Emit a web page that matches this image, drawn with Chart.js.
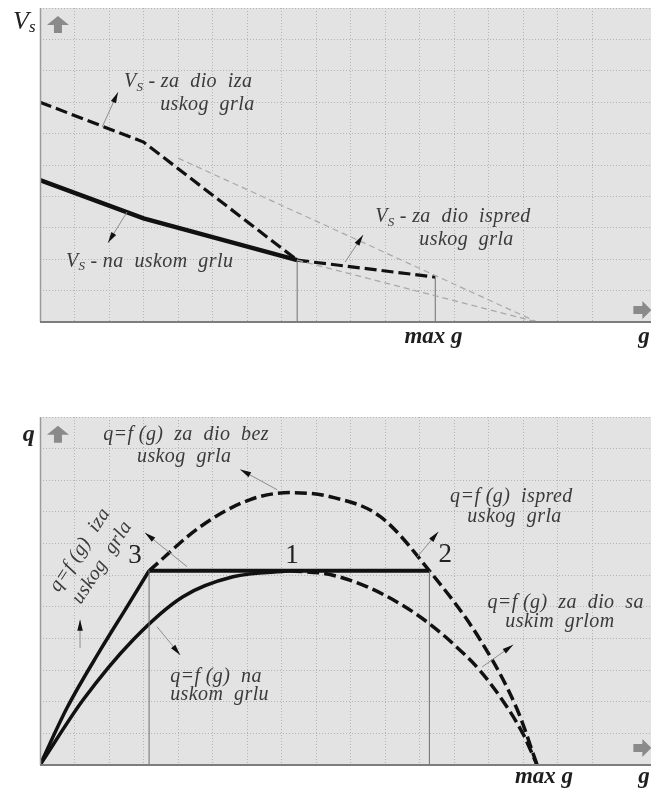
<!DOCTYPE html>
<html><head><meta charset="utf-8">
<script src="https://cdn.jsdelivr.net/npm/chart.js@4"></script>
<style>
html,body{margin:0;padding:0;background:#fff;}
#wrap{position:relative;width:651px;height:791px;overflow:hidden;background:#fff;}
canvas{position:absolute;left:0;}
#top{top:0;} #bot{top:390px;}
</style></head><body>
<div id="wrap"><canvas id="top" width="651" height="360"></canvas><canvas id="bot" width="651" height="401"></canvas></div>
<script>
// ---------- data ----------
const gMax = 17.7;          // g-axis range (grid units)
const vsMax = 10;           // V_s-axis range
const qMax = 11;            // q-axis range

// Top panel: V_s = f(g)
const vsIzaG    = [0, 3.0, 7.45];
const vsIzaV    = [7.0, 5.73, 1.97];
const vsIspredG = [7.45, 11.45];
const vsIspredV = [1.97, 1.43];
const vsNaG     = [0, 3.0, 7.45];
const vsNaV     = [4.52, 3.30, 1.97];
const vsGuide1G = [4.0, 14.4];
const vsGuide1V = [5.22, 0];
const vsGuide2G = [7.45, 14.4];
const vsGuide2V = [1.97, 0];
const vsDrop1G  = [7.45, 7.45];
const vsDrop1V  = [0, 1.97];
const vsDrop2G  = [11.45, 11.45];
const vsDrop2V  = [0, 1.43];

// Bottom panel: q = f(g)
const qIzaG    = [0, 0.78, 1.74, 2.52, 3.16];
const qIzaQ    = [0, 1.80, 3.62, 5.00, 6.14];
const qNaG     = [0, 1.25, 2.70, 4.14, 5.59, 7.25];
const qNaQ     = [0, 2.06, 3.96, 5.32, 5.95, 6.14];
const qSaG     = [7.25, 8.4, 9.5, 10.5, 11.3, 12.0, 12.75, 13.5, 14.0, 14.4];
const qSaQ     = [6.14, 6.02, 5.62, 5.05, 4.45, 3.80, 2.98, 1.88, 0.97, 0];
const qBezG    = [3.16, 4.64, 6.09, 7.25, 8.41, 9.86, 11.28, 12.75, 13.83, 14.4];
const qBezQ    = [6.14, 7.53, 8.39, 8.61, 8.48, 7.85, 6.14, 3.96, 1.74, 0];
const qFlatG   = [3.16, 11.28];
const qFlatQ   = [6.14, 6.14];
const qDrop1G  = [3.16, 3.16];
const qDrop1Q  = [0, 6.14];
const qDrop2G  = [11.28, 11.28];
const qDrop2Q  = [0, 6.14];

const pts = (gs, vs) => gs.map((g, i) => ({x: g, y: vs[i]}));

// ---------- annotation config (data coordinates) ----------
const FONT = '"Liberation Serif","DejaVu Serif",serif';
const topNotes = {
  texts: [
    {g: 2.43, v: 7.64, segs: [['V'], ['S', 'sub'], [' - za  dio  iza']]},
    {g: 3.48, v: 6.91, segs: [['uskog  grla']]},
    {g: 0.75, v: 1.91, segs: [['V'], ['S', 'sub'], [' - na  uskom  grlu']]},
    {g: 9.71, v: 3.34, segs: [['V'], ['S', 'sub'], [' - za  dio  ispred']]},
    {g: 10.99, v: 2.61, segs: [['uskog  grla']]}
  ],
  arrows: [
    [1.80, 6.21, 2.26, 7.32],
    [2.52, 3.50, 1.97, 2.52],
    [8.84, 1.91, 9.36, 2.77]
  ],
  yLabel: {g: -0.78, v: 9.55, segs: [['V', 'big'], ['s', 'bigsub']]},
  upIcon: {g: 0.52, v: 9.46},
  rightIcon: {g: 17.45, v: 0.38},
  maxG: {g: 11.4, v: -0.48},
  gLabel: {g: 17.5, v: -0.48}
};
const botNotes = {
  texts: [
    {g: 1.83, v: 10.44, segs: [['q=f (g)  za  dio  bez']]},
    {g: 2.81, v: 9.75, segs: [['uskog  grla']]},
    {g: 11.88, v: 8.48, segs: [['q=f (g)  ispred']]},
    {g: 12.38, v: 7.85, segs: [['uskog  grla']]},
    {g: 12.96, v: 5.13, segs: [['q=f (g)  za  dio  sa']]},
    {g: 13.48, v: 4.53, segs: [['uskim  grlom']]},
    {g: 3.77, v: 2.78, segs: [['q=f (g)  na']]},
    {g: 3.77, v: 2.22, segs: [['uskom  grlu']]},
    {g: 1.16, v: 6.80, segs: [['q=f (g)  iza']], rot: -57, center: true},
    {g: 1.80, v: 6.40, segs: [['uskog  grla']], rot: -57, center: true}
  ],
  numbers: [
    {g: 2.75, v: 6.61, t: '3'},
    {g: 7.30, v: 6.61, t: '1'},
    {g: 11.74, v: 6.65, t: '2'}
  ],
  arrows: [
    [6.87, 8.70, 5.80, 9.34],
    [4.26, 6.27, 3.04, 7.34],
    [1.16, 3.70, 1.16, 4.59],
    [3.39, 4.37, 4.06, 3.48],
    [10.93, 6.58, 11.54, 7.37],
    [12.81, 3.10, 13.71, 3.80]
  ],
  yLabel: {g: -0.5, v: 10.44, segs: [['q', 'bigbold']]},
  upIcon: {g: 0.52, v: 10.44},
  rightIcon: {g: 17.45, v: 0.54},
  maxG: {g: 14.6, v: -0.38},
  gLabel: {g: 17.5, v: -0.38}
};

// ---------- drawing helpers ----------
function segFont(kind) {
  if (kind === 'sub') return 'italic 13px ' + FONT;
  if (kind === 'big') return 'italic 26px ' + FONT;
  if (kind === 'bigsub') return 'italic 17px ' + FONT;
  if (kind === 'bigbold') return 'italic bold 24px ' + FONT;
  return 'italic 20px ' + FONT;
}
function segDy(kind) {
  if (kind === 'sub') return 5;
  if (kind === 'bigsub') return 5;
  return 0;
}
function setSpacing(ctx, kind) {
  if ('letterSpacing' in ctx) ctx.letterSpacing = (kind ? '0px' : '0.4px');
}
function drawRich(ctx, segs, x, y, color) {
  ctx.fillStyle = color;
  ctx.textBaseline = 'middle';
  ctx.textAlign = 'left';
  let cx = x;
  segs.forEach(([t, kind]) => {
    ctx.font = segFont(kind);
    setSpacing(ctx, kind);
    ctx.fillText(t, cx, y + segDy(kind));
    cx += ctx.measureText(t).width;
  });
  setSpacing(ctx, 'x');
  return cx - x;
}
function richWidth(ctx, segs) {
  let w = 0;
  segs.forEach(([t, kind]) => { ctx.font = segFont(kind); setSpacing(ctx, kind); w += ctx.measureText(t).width; });
  setSpacing(ctx, 'x');
  return w;
}
function arrow(ctx, x1, y1, x2, y2) {
  ctx.save();
  ctx.strokeStyle = '#8e8e8e';
  ctx.lineWidth = 1;
  ctx.beginPath(); ctx.moveTo(x1, y1); ctx.lineTo(x2, y2); ctx.stroke();
  const a = Math.atan2(y2 - y1, x2 - x1);
  const L = 11, W = 2.8;
  const bx = x2 - L * Math.cos(a), by = y2 - L * Math.sin(a);
  ctx.fillStyle = '#111';
  ctx.beginPath();
  ctx.moveTo(x2, y2);
  ctx.lineTo(bx + W * Math.sin(a), by - W * Math.cos(a));
  ctx.lineTo(bx - W * Math.sin(a), by + W * Math.cos(a));
  ctx.closePath(); ctx.fill();
  ctx.restore();
}
function upIcon(ctx, cx, cy) {
  ctx.save();
  ctx.fillStyle = '#8a8a8a';
  ctx.beginPath();
  ctx.moveTo(cx, cy - 9);
  ctx.lineTo(cx + 11, cy);
  ctx.lineTo(cx + 4, cy);
  ctx.lineTo(cx + 4, cy + 8);
  ctx.lineTo(cx - 4, cy + 8);
  ctx.lineTo(cx - 4, cy);
  ctx.lineTo(cx - 11, cy);
  ctx.closePath(); ctx.fill();
  ctx.restore();
}
function rightIcon(ctx, cx, cy) {
  ctx.save();
  ctx.fillStyle = '#8a8a8a';
  ctx.beginPath();
  ctx.moveTo(cx + 9, cy);
  ctx.lineTo(cx, cy - 9);
  ctx.lineTo(cx, cy - 4);
  ctx.lineTo(cx - 9, cy - 4);
  ctx.lineTo(cx - 9, cy + 4);
  ctx.lineTo(cx, cy + 4);
  ctx.lineTo(cx, cy + 9);
  ctx.closePath(); ctx.fill();
  ctx.restore();
}

const notesPlugin = {
  id: 'notes',
  beforeDraw(chart) {
    const {ctx, chartArea: a} = chart;
    ctx.save();
    ctx.fillStyle = '#e3e3e3';
    ctx.fillRect(a.left, a.top, a.right - a.left, a.bottom - a.top);
    ctx.restore();
  },
  afterDatasetsDraw(chart, args, opts) {
    const {ctx, chartArea: a} = chart;
    const sx = chart.scales.x, sy = chart.scales.y;
    const X = v => sx.getPixelForValue(v), Y = v => sy.getPixelForValue(v);
    ctx.save();
    // axes
    ctx.strokeStyle = '#9a9a9a'; ctx.lineWidth = 1.5;
    ctx.beginPath(); ctx.moveTo(a.left + 0.5, a.top); ctx.lineTo(a.left + 0.5, a.bottom); ctx.stroke();
    ctx.strokeStyle = '#7d7d7d'; ctx.lineWidth = 2;
    ctx.beginPath(); ctx.moveTo(a.left, a.bottom); ctx.lineTo(a.right, a.bottom); ctx.stroke();
    // arrows
    (opts.arrows || []).forEach(([g1, v1, g2, v2]) => arrow(ctx, X(g1), Y(v1), X(g2), Y(v2)));
    // texts
    (opts.texts || []).forEach(t => {
      if (t.rot !== undefined) {
        ctx.save();
        ctx.translate(X(t.g), Y(t.v));
        ctx.rotate(t.rot * Math.PI / 180);
        const w = richWidth(ctx, t.segs);
        drawRich(ctx, t.segs, -w / 2, 0, '#3a3a3a');
        ctx.restore();
      } else {
        drawRich(ctx, t.segs, X(t.g), Y(t.v), '#3a3a3a');
      }
    });
    (opts.numbers || []).forEach(n => {
      ctx.font = '27px ' + FONT;
      ctx.fillStyle = '#222';
      ctx.textAlign = 'center'; ctx.textBaseline = 'middle';
      ctx.fillText(n.t, X(n.g), Y(n.v));
    });
    // axis labels
    if (opts.yLabel) drawRich(ctx, opts.yLabel.segs, X(opts.yLabel.g), Y(opts.yLabel.v), '#222');
    if (opts.upIcon) upIcon(ctx, X(opts.upIcon.g), Y(opts.upIcon.v));
    if (opts.rightIcon) rightIcon(ctx, X(opts.rightIcon.g), Y(opts.rightIcon.v));
    ctx.fillStyle = '#1e1e1e';
    ctx.textBaseline = 'middle'; ctx.textAlign = 'center';
    if (opts.maxG) { ctx.font = 'italic bold 23px ' + FONT; ctx.fillText('max g', X(opts.maxG.g), Y(opts.maxG.v)); }
    if (opts.gLabel) { ctx.font = 'italic bold 23px ' + FONT; ctx.fillText('g', X(opts.gLabel.g), Y(opts.gLabel.v)); }
    ctx.restore();
  }
};

function scales(yMax) {
  const grid = {color: '#b4b4b4', lineWidth: 1, drawTicks: false};
  return {
    x: {type: 'linear', min: 0, max: gMax, ticks: {display: false, stepSize: 1}, grid: grid,
        border: {display: false, dash: [1, 2]}, afterFit(s) { s.height = 0; }},
    y: {type: 'linear', min: 0, max: yMax, ticks: {display: false, stepSize: 1}, grid: grid,
        border: {display: false, dash: [1, 2]}, afterFit(s) { s.width = 0; }}
  };
}
function ds(data, o) {
  return Object.assign({data: data, borderColor: '#111', borderWidth: 3.5, pointRadius: 0,
    fill: false, tension: 0, borderCapStyle: 'butt'}, o);
}
const DASH = [12, 5];
const GUIDE = {borderColor: '#a9a9a9', borderWidth: 1.2, borderDash: [6, 4]};
const THIN = {borderColor: '#6f6f6f', borderWidth: 1};

new Chart(document.getElementById('top'), {
  type: 'line',
  data: {datasets: [
    ds(pts(vsGuide1G, vsGuide1V), GUIDE),
    ds(pts(vsGuide2G, vsGuide2V), GUIDE),
    ds(pts(vsDrop1G, vsDrop1V), THIN),
    ds(pts(vsDrop2G, vsDrop2V), THIN),
    ds(pts(vsNaG, vsNaV), {borderWidth: 4.5}),
    ds(pts(vsIzaG, vsIzaV), {borderDash: DASH, borderWidth: 3.2}),
    ds(pts(vsIspredG, vsIspredV), {borderDash: DASH, borderWidth: 3.2})
  ]},
  options: {
    responsive: false, animation: false, devicePixelRatio: 1,
    layout: {padding: {left: 40, top: 8, right: 0, bottom: 38}},
    scales: scales(vsMax),
    plugins: {legend: {display: false}, tooltip: {enabled: false}, notes: topNotes}
  },
  plugins: [notesPlugin]
});

new Chart(document.getElementById('bot'), {
  type: 'line',
  data: {datasets: [
    ds(pts(qDrop1G, qDrop1Q), THIN),
    ds(pts(qDrop2G, qDrop2Q), THIN),
    ds(pts(qIzaG, qIzaQ), {borderWidth: 3.5, cubicInterpolationMode: 'monotone'}),
    ds(pts(qNaG, qNaQ), {borderWidth: 3.5, cubicInterpolationMode: 'monotone'}),
    ds(pts(qSaG, qSaQ), {borderDash: DASH, borderWidth: 3.5, cubicInterpolationMode: 'monotone'}),
    ds(pts(qBezG, qBezQ), {borderDash: DASH, borderWidth: 3.5, cubicInterpolationMode: 'monotone'}),
    ds(pts(qFlatG, qFlatQ), {borderWidth: 4})
  ]},
  options: {
    responsive: false, animation: false, devicePixelRatio: 1,
    layout: {padding: {left: 40, top: 27, right: 0, bottom: 26}},
    scales: scales(qMax),
    plugins: {legend: {display: false}, tooltip: {enabled: false}, notes: botNotes}
  },
  plugins: [notesPlugin]
});
</script>
</body></html>
